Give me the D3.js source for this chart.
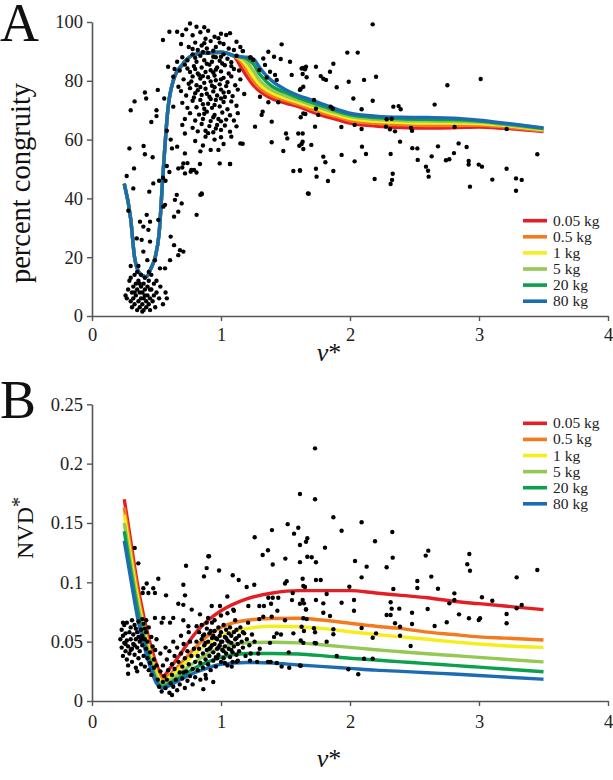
<!DOCTYPE html>
<html><head><meta charset="utf-8">
<script src="https://cdn.jsdelivr.net/npm/d3@7"></script>
<style>
body{margin:0;background:#fff}
svg{display:block}
text{font-family:"Liberation Serif","Times New Roman",serif}
</style>
</head><body>
<svg id="c" width="613" height="780"></svg>
<script>
// ---------- DATA ----------
const massLabels = ["0.05 kg","0.5 kg","1 kg","5 kg","20 kg","80 kg"];
const xTicks = [0,1,2,3,4];
const yTicksA = [0,20,40,60,80,100];
const yTicksB = [0,0.05,0.1,0.15,0.2,0.25];

// Panel A model curves (percent congruity vs v*)
const vGridA = [0.25,0.3,0.33,0.37,0.42,0.46,0.49,0.52,0.55,0.59,0.63,0.7,0.8,0.9,1.0,1.05,1.1,1.15,1.2,1.25,1.3,1.35,1.4,1.5,1.6,1.7,1.8,1.9,2.0,2.2,2.4,2.6,2.8,3.0,3.2,3.5];
const congruity005 = [45,33,20,14.5,13.3,16.5,20,28,48,71,80,85.5,89,89.5,89.7,89.3,88.5,85,81.5,78.5,76.5,75,73.8,72.4,71.2,69.5,68,66.8,65.6,64.6,64.1,63.9,64,64.3,63.8,62.7];
const congruity05  = [45,33,20,14.5,13.3,16.5,20,28,48,71,80,85.5,89,89.5,89.7,89.3,88.5,86.8,83.5,80,77.6,76,74.8,73.3,72,70.4,68.9,67.7,66.5,65.5,65,64.8,64.8,64.9,64.3,63];
const congruity1   = [45,33,20,14.5,13.3,16.5,20,28,48,71,80,85.5,89,89.5,89.7,89.3,88.5,87.5,85,81.5,78.7,77,75.8,74,72.7,71.2,69.7,68.4,67.2,66.2,65.8,65.6,65.6,65.5,64.8,63.3];
const congruity5   = [45,33,20,14.5,13.3,16.5,20,28,48,71,80,85.5,89,89.5,89.7,89.3,88.5,88,86.5,83.5,80.2,78.2,76.8,74.9,73.4,71.9,70.4,69.1,67.9,66.9,66.5,66.3,66.2,66,65.1,63.6];
const congruity20  = [45,33,20,14.5,13.3,16.5,20,28,48,71,80,85.5,89,89.5,89.7,89.3,88.5,88.2,87.5,85.8,82.3,79.8,78,76,74.2,72.7,71.2,69.7,68.5,67.5,67.1,66.9,66.8,66.3,65.4,63.8];
const congruity80  = [45,33,20,14.5,13.3,16.5,20,28,48,71,80,85.5,89,89.5,89.7,89.3,88.5,88.2,88,87.5,84.5,81.8,79.8,77,75,73.5,71.9,70.3,69,68,67.6,67.5,67.3,66.6,65.6,64];

// Panel B model curves (NVD* vs v*)
const vGridB = [0.25,0.3,0.35,0.4,0.45,0.5,0.55,0.6,0.7,0.8,0.9,1.0,1.2,1.4,1.6,1.8,2.0,2.2,2.4,2.6,2.8,3.0,3.2,3.5];
const nvd005 = [0.170,0.135,0.100,0.072,0.049,0.031,0.021,0.027,0.042,0.057,0.068,0.076,0.086,0.091,0.093,0.093,0.093,0.091,0.089,0.087,0.084,0.082,0.080,0.077];
const nvd05  = [0.163,0.128,0.094,0.066,0.043,0.026,0.018,0.022,0.033,0.045,0.055,0.062,0.068,0.0695,0.0697,0.068,0.0655,0.063,0.061,0.058,0.056,0.054,0.053,0.0514];
const nvd1   = [0.157,0.122,0.089,0.062,0.040,0.023,0.016,0.020,0.030,0.040,0.049,0.055,0.061,0.063,0.0626,0.061,0.0584,0.056,0.054,0.052,0.0498,0.048,0.0465,0.0452];
const nvd5   = [0.150,0.116,0.084,0.058,0.036,0.020,0.014,0.017,0.025,0.033,0.040,0.045,0.049,0.0495,0.049,0.0472,0.0452,0.0432,0.0415,0.0398,0.0383,0.0368,0.0352,0.0329];
const nvd20  = [0.143,0.110,0.079,0.053,0.033,0.017,0.012,0.015,0.021,0.028,0.033,0.037,0.040,0.040,0.0396,0.038,0.036,0.0345,0.033,0.0315,0.030,0.0285,0.027,0.0247];
const nvd80  = [0.135,0.103,0.072,0.048,0.029,0.015,0.011,0.013,0.019,0.024,0.028,0.031,0.0325,0.032,0.0303,0.029,0.0275,0.026,0.025,0.0238,0.0227,0.0215,0.0202,0.0183];

// Panel A observations [v*, percent congruity]
const obsA = [
// low cluster
[0.27,6],[0.28,9],[0.29,12],[0.3,5],[0.3,13],[0.31,8],[0.31,3],[0.32,10],[0.32,6],[0.33,14],[0.33,4],[0.34,7],[0.34,11],[0.35,2],[0.35,9],[0.35,15],[0.36,5],[0.36,12],[0.37,8],[0.37,3],[0.38,10],[0.38,6],[0.38,14],[0.39,4],[0.39,8],[0.4,2],[0.4,11],[0.4,6],[0.41,9],[0.41,13],[0.42,5],[0.42,3],[0.43,7],[0.43,10],[0.44,4],[0.44,12],[0.45,6],[0.45,2],[0.46,9],[0.46,14],[0.47,5],[0.48,11],[0.48,7],[0.49,3],[0.5,8],[0.5,12],[0.52,6],[0.53,10],[0.55,4],[0.57,8],[0.58,6],[0.36,17],[0.3,17],[0.44,15],[0.33,8],[0.41,7],[0.37,11],[0.45,9],[0.26,7],[0.39,1.5],
// left scatter
[0.326,50.2],[0.269,47.6],[0.32,43.4],[0.475,45.1],[0.444,42.3],[0.282,35.8],[0.424,34.4],[0.372,32.1],[0.45,32.1],[0.398,30.4],[0.437,29.3],[0.347,26.4],[0.385,25.9],[0.45,25.3],[0.514,32.7],[0.553,37.2],[0.566,37.8],[0.61,27],[0.636,24.1],[0.708,21.9],[0.669,20.7],[0.682,22.4],[0.605,19],[0.566,16.2],[0.527,16.2],[0.398,21.9],[0.429,19],[0.488,19],[0.643,39.5],[0.657,41.2],[0.695,38.3],[0.669,35.5],[0.636,33.8],[0.811,34.4],[0.85,41.7],[0.721,48.5],[0.765,49.1],[0.791,49.7],[0.837,51.7],[0.669,50.2],[0.708,51.9],
[0.29,57],[0.3,70],[0.33,73],[0.4,57.8],[0.41,55],[0.41,76],[0.42,74],[0.46,66],[0.47,54],[0.5,68],[0.5,70],[0.52,46],[0.55,47],[0.58,51],[0.6,49],[0.57,46],[0.61,60],[0.58,63],[0.62,57],[0.56,74],[0.51,76.9],[0.55,93.9],[0.59,84.8],
// main cloud
[0.76,99.5],[0.81,98.4],[0.87,98.2],[0.66,96.7],[0.6,96.7],[0.7,95.6],[1.04,95.6],[1.07,96.2],[0.84,96.5],[0.9,97],[0.95,95],[0.78,95.5],[0.98,94.5],[1.0,96],[0.88,94.3],[0.73,97.5],
[1.12,93.3],[0.8,93],[0.85,92],[0.92,93.5],[0.96,91.5],[1.02,92.5],[1.06,91],[0.75,91.5],[0.82,90.5],[0.89,91],[0.94,90.2],[1.1,90.5],[1.15,91.5],[0.69,92.5],[0.99,93],[0.87,92.8],[0.78,90.8],
[0.7,88],[0.74,87],[0.78,89],[0.81,86.5],[0.84,88.5],[0.87,87],[0.9,89.5],[0.93,86.5],[0.96,88],[0.99,86.8],[1.02,89],[1.05,87.5],[1.08,86.3],[1.12,88.5],[1.17,90.1],[1.23,87.9],[1.25,87.1],[0.66,86.5],[0.86,89.8],[0.94,88.2],[0.8,87.8],[1.0,88.2],
[0.64,84],[0.68,83.5],[0.72,85.5],[0.76,83],[0.79,85],[0.82,82.5],[0.85,84.5],[0.88,83],[0.91,85.5],[0.94,82.8],[0.97,84.5],[1.0,83.2],[1.03,85.3],[1.06,82.5],[1.1,84],[1.14,83.5],[0.8,84],[0.89,85.8],[0.96,83.8],[1.01,85.9],[0.74,84.2],[0.92,83.6],[1.08,85],
[0.63,81.4],[0.67,78],[0.71,80.5],[0.75,79],[0.78,81.5],[0.81,78.5],[0.84,80.8],[0.87,79.3],[0.9,81.2],[0.93,78.3],[0.96,80.2],[0.99,78.8],[1.02,81],[1.05,79.5],[1.08,81.5],[1.11,78.5],[1.15,80.5],[0.83,82],[0.92,79.8],[1.0,80.5],[0.77,79.8],[0.86,81.6],[0.95,81.8],[1.04,78.2],
[0.69,76.5],[0.73,75],[0.76,77.5],[0.79,74.3],[0.82,76.8],[0.85,75.2],[0.88,77.3],[0.91,74.6],[0.94,76.4],[0.97,75],[1.0,77],[1.03,74.5],[1.06,76.2],[1.09,74.8],[1.13,77],[0.8,75.8],[0.89,75.6],[0.95,77.8],[1.18,75.5],[0.84,77.9],[1.02,76],
[0.63,71.2],[0.7,72.5],[0.74,70.8],[0.78,73.2],[0.81,71],[0.84,73.5],[0.87,70.5],[0.9,72.2],[0.93,70.8],[0.96,73.5],[0.99,71.3],[1.02,72.8],[1.05,70.3],[1.08,73],[1.12,71.5],[0.92,73.8],[0.86,72],[1.0,74],[0.95,71.8],
[0.72,67],[0.76,69],[0.8,66.5],[0.83,68.5],[0.86,67],[0.89,69.5],[0.92,66.3],[0.95,68.4],[0.98,67],[1.01,69.2],[1.04,66.8],[1.07,68.3],[1.1,66.5],[0.87,68.8],[0.94,67.6],[1.0,66.2],[1.13,69],
[0.7,65],[0.72,62.1],[0.78,64],[0.82,62.8],[0.85,65.3],[0.88,63],[0.91,64.6],[0.94,62.5],[0.97,65],[1.0,63.3],[1.03,64.8],[1.07,62.7],[1.12,64.5],[0.9,62.2],[0.96,63.8],
[0.66,57.6],[0.72,55.3],[0.8,59.5],[0.86,58],[0.92,56.5],[0.98,56.5],[0.95,60],[1.02,58.5],[1.08,61],[1.15,58.7],[0.88,61],[1.0,60.8],[0.84,56],[0.99,51.9],[1.07,51.7],[0.77,49.7],[0.81,48.8],[0.74,52],[0.7,50.5],[0.84,41.2],[0.85,41.4],
// right scatter
[1.47,92.4],[1.367,89.9],[1.411,88.2],[1.463,87.4],[1.168,90.1],[1.225,87.9],[1.328,87.6],[1.341,85.4],[1.38,83.1],[1.419,82],[1.432,80.3],[1.297,83.7],[1.354,81.1],[1.535,86.5],[1.548,82],[1.625,84.2],[1.659,84.8],[1.638,78],[1.612,76.9],[1.302,74.6],[1.367,72.7],[1.323,69.5],[1.444,72.7],[1.393,66.1],[1.315,68.4],[1.264,64.4],[1.504,62.1],[1.514,60.4],[1.483,56.1],[1.599,62.1],[1.633,59.3],[1.607,57.9],[1.393,59.1],[1.561,49.3],[1.612,49.6],[1.68,41.6],[1.168,58.6],[1.07,51.7],
[2.176,99.2],[1.979,89.6],[2.06,89.6],[1.871,85.8],[1.651,83.9],[1.638,84.4],[1.736,84.8],[1.633,82.3],[1.664,81.2],[1.773,81.6],[1.793,80.7],[1.814,80.3],[1.845,83.1],[2.109,80.3],[2.202,81.4],[1.99,79.7],[1.897,77.8],[1.618,77.2],[2.026,74],[2.176,73.2],[2.336,71.2],[2.377,71.4],[2.393,70.3],[2.09,70.3],[1.85,71.2],[1.866,70.5],[1.721,73.5],[1.736,70.5],[1.754,68.4],[1.638,68.9],[1.654,68.7],[1.618,67.6],[1.633,62.1],[1.729,64.4],[1.933,64.3],[2.036,65],[2.09,63.6],[2.284,66.9],[2.323,67.1],[2.279,64.4],[2.31,63.5],[2.349,62.8],[2.473,64],[2.481,63],[2.755,78.5],[3.013,80.6],[2.656,71.9],[2.811,64.3],[3.214,63.6],[2.388,59.3],[1.625,58.5],[1.638,56.8],[1.7,58.2],[1.793,54.2],[1.809,52.3],[1.935,54.8],[2.093,57.6],[2.124,55.1],[2.036,52.6],[2.483,57.1],[2.522,57],[2.525,53.1],[2.633,54.3],[2.682,57.7],[2.744,53],[2.77,53.3],[2.806,55.4],[2.842,58.7],[2.904,57.5],[2.92,52.7],[2.92,51.5],[2.998,51.5],[3.023,50.8],[2.589,50.8],[2.605,49.4],[2.61,47.4],[2.315,55.1],[2.331,48.4],[2.315,44.9],[2.326,46.3],[2.191,46.6],[1.871,49.3],[1.736,50.1],[1.741,47.4],[1.829,45.9],[1.612,49.4],[1.674,41.7],[2.93,44],[3.103,46.4],[3.214,50.1],[3.287,46.8],[3.331,46.3],[3.287,42.6],[3.452,55]
];

// Panel B observations [v*, NVD*]
const obsB = [
// left cluster
[0.22,0.052],[0.23,0.045],[0.23,0.06],[0.24,0.038],[0.24,0.055],[0.25,0.049],[0.25,0.064],[0.26,0.042],[0.26,0.057],[0.27,0.035],[0.27,0.051],[0.27,0.066],[0.28,0.046],[0.28,0.03],[0.29,0.058],[0.29,0.04],[0.3,0.052],[0.3,0.062],[0.31,0.044],[0.31,0.033],[0.32,0.056],[0.32,0.048],[0.33,0.039],[0.33,0.064],[0.34,0.052],[0.34,0.028],[0.35,0.045],[0.35,0.058],[0.36,0.036],[0.36,0.067],[0.37,0.05],[0.37,0.042],[0.38,0.06],[0.38,0.031],[0.39,0.055],[0.39,0.047],[0.4,0.038],[0.4,0.065],[0.41,0.052],[0.41,0.029],[0.42,0.044],[0.42,0.058],[0.43,0.036],[0.43,0.05],[0.44,0.026],[0.44,0.062],[0.45,0.041],[0.45,0.032],[0.46,0.054],[0.46,0.022],[0.47,0.046],[0.48,0.035],[0.48,0.028],[0.49,0.043],[0.5,0.03],[0.5,0.052],[0.28,0.023],[0.31,0.068],[0.35,0.025],[0.24,0.066],[0.39,0.069],[0.42,0.068],[0.3,0.043],[0.36,0.054],[0.34,0.061],[0.26,0.048],[0.33,0.047],[0.38,0.052],[0.41,0.061],
// scattered above left
[0.331,0.129],[0.359,0.116],[0.514,0.103],[0.729,0.114],[0.902,0.122],[0.424,0.099],[0.398,0.095],[0.475,0.095],[0.437,0.091],[0.488,0.091],[0.393,0.091],[0.574,0.089],[0.708,0.098],[0.721,0.089],[0.669,0.082],[0.708,0.081],[0.773,0.077],[0.837,0.073],[0.488,0.07],[0.553,0.07],[0.63,0.07],[0.54,0.066],[0.605,0.066],[0.708,0.068],[0.747,0.063],[0.811,0.063],[0.889,0.066],
// trough cluster
[0.51,0.018],[0.52,0.012],[0.53,0.025],[0.54,0.008],[0.55,0.016],[0.55,0.03],[0.56,0.021],[0.57,0.011],[0.58,0.035],[0.58,0.018],[0.59,0.026],[0.6,0.007],[0.6,0.042],[0.61,0.015],[0.62,0.031],[0.62,0.022],[0.63,0.012],[0.64,0.038],[0.64,0.027],[0.65,0.018],[0.66,0.045],[0.66,0.009],[0.67,0.033],[0.68,0.024],[0.68,0.014],[0.69,0.04],[0.7,0.029],[0.7,0.019],[0.71,0.048],[0.72,0.036],[0.72,0.011],[0.73,0.025],[0.74,0.042],[0.74,0.017],[0.75,0.031],[0.76,0.021],[0.76,0.05],[0.77,0.038],[0.78,0.014],[0.78,0.027],[0.79,0.044],[0.8,0.033],[0.8,0.02],[0.57,0.045],[0.63,0.05],[0.53,0.04],[0.69,0.055],[0.75,0.058],[0.62,0.005],[0.71,0.024],
// main cloud
[0.81,0.05],[0.82,0.038],[0.82,0.026],[0.83,0.058],[0.83,0.044],[0.84,0.032],[0.84,0.018],[0.85,0.052],[0.85,0.064],[0.86,0.04],[0.86,0.028],[0.87,0.047],[0.87,0.056],[0.88,0.035],[0.88,0.022],[0.89,0.061],[0.89,0.043],[0.9,0.05],[0.9,0.031],[0.91,0.038],[0.91,0.057],[0.92,0.045],[0.92,0.026],[0.93,0.053],[0.93,0.066],[0.94,0.041],[0.94,0.034],[0.95,0.048],[0.95,0.059],[0.96,0.037],[0.96,0.029],[0.97,0.052],[0.97,0.044],[0.98,0.062],[0.98,0.039],[0.99,0.047],[0.99,0.055],[1.0,0.033],[1.0,0.058],[1.01,0.043],[1.01,0.05],[1.02,0.064],[1.02,0.036],[1.03,0.054],[1.03,0.046],[1.04,0.04],[1.04,0.06],[1.05,0.051],[1.05,0.03],[1.06,0.057],[1.06,0.044],[1.07,0.037],[1.07,0.062],[1.08,0.049],[1.08,0.055],[1.09,0.041],[1.09,0.033],[1.1,0.058],[1.1,0.046],[1.11,0.052],[1.11,0.068],[1.12,0.039],[1.12,0.06],[1.13,0.048],[1.14,0.055],[1.14,0.042],[1.15,0.062],[1.16,0.05],[1.17,0.045],[1.18,0.057],[1.19,0.038],[1.2,0.052],[1.21,0.066],[1.22,0.047],[1.24,0.056],[0.9,0.07],[0.95,0.068],[1.0,0.072],[1.05,0.074],[1.1,0.076],[0.92,0.059],[0.97,0.036],[1.03,0.032],[0.86,0.055],[0.88,0.049],[0.94,0.055],[1.0,0.05],[1.02,0.042],[1.06,0.05],[1.08,0.043],[1.12,0.053],[0.98,0.045],[0.93,0.047],[0.96,0.053],[1.04,0.053],[0.91,0.044],[1.13,0.034],[1.17,0.058],[1.23,0.04],[1.26,0.05],[1.28,0.033],[1.3,0.044],
[1.091,0.106],[1.137,0.102],[0.985,0.11],[0.907,0.122],[0.889,0.112],[0.868,0.105],[1.049,0.088],[0.928,0.08],[0.992,0.08],[1.095,0.077],[1.212,0.08],[1.297,0.08],[0.94,0.016],[0.863,0.01],[0.884,0.019],[1.121,0.033],[1.225,0.034],[1.083,0.029],[1.258,0.098],[1.199,0.096],[1.261,0.138],[1.289,0.04],[1.297,0.069],[1.328,0.071],[1.333,0.08],[1.323,0.123],[1.364,0.127],[1.395,0.144],[1.401,0.115],[1.367,0.087],[1.401,0.087],[1.444,0.087],[1.388,0.082],[1.437,0.076],[1.393,0.071],[1.432,0.057],[1.411,0.054],[1.465,0.056],[1.38,0.049],[1.385,0.033],[1.364,0.033],[1.432,0.032],[1.47,0.029],[1.529,0.028],[1.612,0.03],[1.525,0.041],[1.496,0.068],[1.561,0.057],[1.643,0.059],[1.618,0.051],[1.726,0.049],[1.664,0.069],[1.638,0.049],[1.556,0.091],[1.651,0.096],[1.55,0.085],[1.612,0.082],[1.659,0.077],[1.509,0.101],[1.496,0.099],[1.633,0.103],[1.517,0.149],[1.599,0.146],[1.566,0.141],[1.499,0.12],[1.612,0.117],
// right scatter
[1.729,0.2129],[1.612,0.1744],[1.729,0.17],[1.871,0.1548],[2.09,0.1506],[1.935,0.1435],[2.328,0.1424],[2.194,0.1346],[1.612,0.1314],[1.669,0.1371],[1.659,0.1342],[1.806,0.1292],[1.703,0.1211],[1.736,0.1169],[2.039,0.118],[2.129,0.1132],[2.331,0.1208],[2.284,0.1127],[2.587,0.1225],[2.607,0.1267],[2.909,0.1152],[2.93,0.1098],[2.925,0.1239],[2.63,0.1048],[2.522,0.1011],[2.522,0.0952],[2.682,0.0946],[2.809,0.0907],[2.809,0.0851],[3.023,0.0874],[3.103,0.0845],[3.292,0.1042],[3.331,0.0809],[3.292,0.0781],[3.452,0.1104],[3.214,0.0733],[3.214,0.0655],[3.008,0.0697],[2.998,0.0683],[2.922,0.0697],[2.845,0.073],[2.75,0.0663],[2.77,0.0823],[2.656,0.0632],[2.602,0.0775],[2.481,0.0744],[2.481,0.0649],[2.349,0.0655],[2.388,0.0626],[2.388,0.055],[2.382,0.0778],[2.315,0.0832],[2.323,0.0778],[2.315,0.0725],[2.284,0.0725],[2.336,0.0944],[2.47,0.0463],[2.202,0.057],[2.176,0.0533],[2.09,0.0615],[2.09,0.1042],[2.031,0.0851],[2.031,0.0761],[1.995,0.0963],[1.935,0.0828],[1.871,0.0604],[1.871,0.0562],[1.897,0.0379],[1.987,0.0267],[2.064,0.0225],[2.109,0.0356],[2.176,0.0356],[1.819,0.05],[1.845,0.0716],[1.819,0.0902],[1.793,0.0823],[1.793,0.0744],[1.736,0.102],[1.773,0.102],[1.736,0.0851],[1.729,0.0579],[1.736,0.0486],[1.633,0.0851],[1.643,0.0823],[1.638,0.0697],[1.625,0.0626],[1.659,0.0773],[1.638,0.0969],[1.618,0.0297],[1.721,0.0613],[1.669,0.1216]
];

// ---------- STYLE / LAYOUT ----------
const lineColors = ["#e41e25","#f47a20","#f6ee1c","#93c954","#0ba04d","#1d6cb3"];
const seriesA = [congruity005,congruity05,congruity1,congruity5,congruity20,congruity80];
const seriesB = [nvd005,nvd05,nvd1,nvd5,nvd20,nvd80];

const svg = d3.select("#c");
const axisColor = "#555";
const serif = '"Liberation Serif","Times New Roman",serif';

function panel(opts){
  const x = d3.scaleLinear().domain([0,4]).range([92,608]);
  const y = d3.scaleLinear().domain(opts.yDomain).range(opts.yRange);
  const g = svg.append("g");

  // curves
  const line = d3.line().x((d,i)=>x(opts.grid[i])).y(d=>y(d)).curve(d3.curveMonotoneX);
  opts.series.forEach((s,k)=>{
    g.append("path").attr("d",line(s)).attr("fill","none")
     .attr("stroke",lineColors[k]).attr("stroke-width",3.4).attr("stroke-linejoin","round");
  });

  // points
  g.append("g").selectAll("circle").data(opts.obs).join("circle")
    .attr("cx",d=>x(d[0])).attr("cy",d=>y(d[1])).attr("r",2.2).attr("fill","#000");

  // axes
  const ax = g.append("g").attr("transform",`translate(0,${opts.yRange[0]})`)
    .call(d3.axisBottom(x).tickValues(xTicks).tickSize(5).tickSizeOuter(0).tickPadding(opts.xPad).tickFormat(d3.format("d")));
  const ay = g.append("g").attr("transform","translate(92,0)")
    .call(d3.axisLeft(y).tickValues(opts.yTicks).tickSize(5).tickSizeOuter(0).tickPadding(4).tickFormat(d=>String(d)));
  [ax,ay].forEach(a=>{
    a.attr("font-family",serif);
    a.select(".domain").attr("stroke",axisColor).attr("stroke-width",1.6);
    a.selectAll(".tick line").attr("stroke",axisColor).attr("stroke-width",1.4);
    a.selectAll(".tick text").attr("fill","#222").attr("font-size",18.5);
  });

  // legend
  const lg = g.append("g");
  massLabels.forEach((lab,k)=>{
    const yy = opts.legendY + k*16.1;
    lg.append("line").attr("x1",523).attr("x2",547).attr("y1",yy).attr("y2",yy)
      .attr("stroke",lineColors[k]).attr("stroke-width",3.6);
    lg.append("text").attr("x",553).attr("y",yy+5).attr("font-size",15.5).attr("fill","#222").text(lab);
  });

  // panel letter
  svg.append("text").attr("x",0).attr("y",opts.letterY).attr("font-size",54).attr("fill","#111").text(opts.letter);

  // x label
  const xl = svg.append("text").attr("x",329).attr("y",opts.xLabelY).attr("font-size",26)
    .attr("font-style","italic").attr("text-anchor","middle").attr("fill","#111");
  xl.append("tspan").text("v");
  xl.append("tspan").attr("font-style","normal").text("*");

  // y label
  const yl = svg.append("text").attr("transform",`translate(${opts.yLabelX},${opts.yLabelY}) rotate(-90)`)
    .attr("text-anchor","middle").attr("font-size",opts.yLabelSize).attr("fill","#111");
  opts.yLabel(yl);
}

panel({
  yDomain:[0,100], yRange:[316,22], yTicks:yTicksA, grid:vGridA, series:seriesA, obs:obsA,
  xPad:7, legendY:220.7, letter:"A", letterY:41, xLabelY:361,
  yLabelX:30, yLabelY:183, yLabelSize:28.5,
  yLabel: t=>t.text("percent congruity")
});
panel({
  yDomain:[0,0.25], yRange:[701,404.3], yTicks:yTicksB, grid:vGridB, series:seriesB, obs:obsB,
  xPad:9, legendY:423.3, letter:"B", letterY:418, xLabelY:767,
  yLabelX:33, yLabelY:528, yLabelSize:24,
  yLabel: t=>{ t.append("tspan").text("NVD"); t.append("tspan").attr("dy",-7).attr("font-size",20).text("*"); }
});
</script>
</body></html>
